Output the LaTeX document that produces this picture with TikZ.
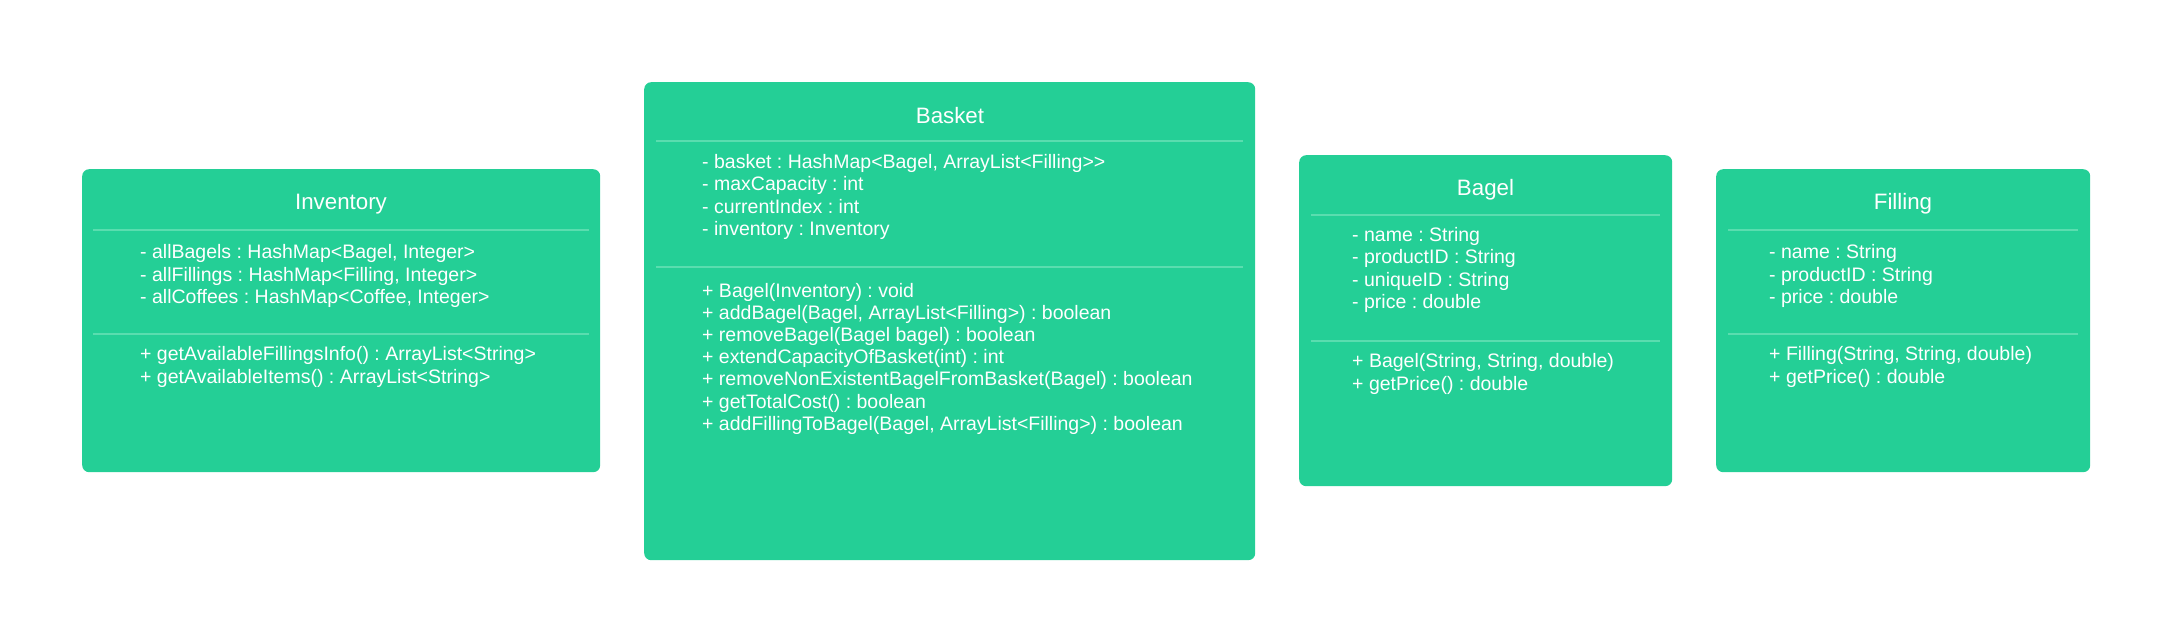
\documentclass[tikz,border=0pt]{standalone}
\usepackage{fontspec}
\setmainfont{Liberation Sans}
\frenchspacing
\definecolor{umlgreen}{HTML}{24CF96}
\definecolor{umlline}{HTML}{5ADDAF}
\begin{document}
\begin{tikzpicture}[x=1pt,y=-1pt,
  classbox/.style={fill=umlgreen, draw=none, rounded corners=7pt, inner sep=0pt, anchor=north west},
  divider/.style={draw=umlline, line width=1.2pt},
  title/.style={text=white, font=\fontsize{22.3}{26}\selectfont, inner sep=0pt},
  members/.style={text=white, font=\fontsize{19.5}{22.2}\selectfont, align=left, anchor=west, inner sep=0pt}]
\useasboundingbox (0,0) rectangle (2172,643);
% Inventory
\node[classbox, minimum width=518pt, minimum height=303pt] (inv) at (82,169) {};
\node[title] (invT) at (341,204) {Inventory};
\draw[divider] (93,230) -- (589,230);
\draw[divider] (93,334) -- (589,334);
\node[members] (invA) at (140,276) {- allBagels : HashMap<Bagel, Integer>\\- allFillings : HashMap<Filling, Integer>\\- allCoffees : HashMap<Coffee, Integer>};
\node[members] (invM) at (140,367) {+ getAvailableFillingsInfo() : ArrayList<String>\\+ getAvailableItems() : ArrayList<String>};
% Basket
\node[classbox, minimum width=611pt, minimum height=478pt] (bas) at (644,82) {};
\node[title] (basT) at (950,116) {Basket};
\draw[divider] (656,141) -- (1243,141);
\draw[divider] (656,267) -- (1243,267);
\node[members] (basA) at (702,197) {- basket : HashMap<Bagel, ArrayList<Filling>{}>\\- maxCapacity : int\\- currentIndex : int\\- inventory : Inventory};
\node[members] (basM) at (702,358.6) {+ Bagel(Inventory) : void\\+ addBagel(Bagel, ArrayList<Filling>) : boolean\\+ removeBagel(Bagel bagel) : boolean\\+ extendCapacityOfBasket(int) : int\\+ removeNonExistentBagelFromBasket(Bagel) : boolean\\+ getTotalCost() : boolean\\+ addFillingToBagel(Bagel, ArrayList<Filling>) : boolean};
% Bagel
\node[classbox, minimum width=373pt, minimum height=331pt] (bag) at (1299,155) {};
\node[title] (bagT) at (1485.5,190) {Bagel};
\draw[divider] (1311,215) -- (1660,215);
\draw[divider] (1311,341) -- (1660,341);
\node[members] (bagA) at (1352,270) {- name : String\\- productID : String\\- uniqueID : String\\- price : double};
\node[members] (bagM) at (1352,374) {+ Bagel(String, String, double)\\+ getPrice() : double};
% Filling
\node[classbox, minimum width=374pt, minimum height=303pt] (fil) at (1716,169) {};
\node[title] (filT) at (1903,204) {Filling};
\draw[divider] (1728,230) -- (2078,230);
\draw[divider] (1728,334) -- (2078,334);
\node[members] (filA) at (1769,276) {- name : String\\- productID : String\\- price : double};
\node[members] (filM) at (1769,367) {+ Filling(String, String, double)\\+ getPrice() : double};
\end{tikzpicture}
\end{document}
